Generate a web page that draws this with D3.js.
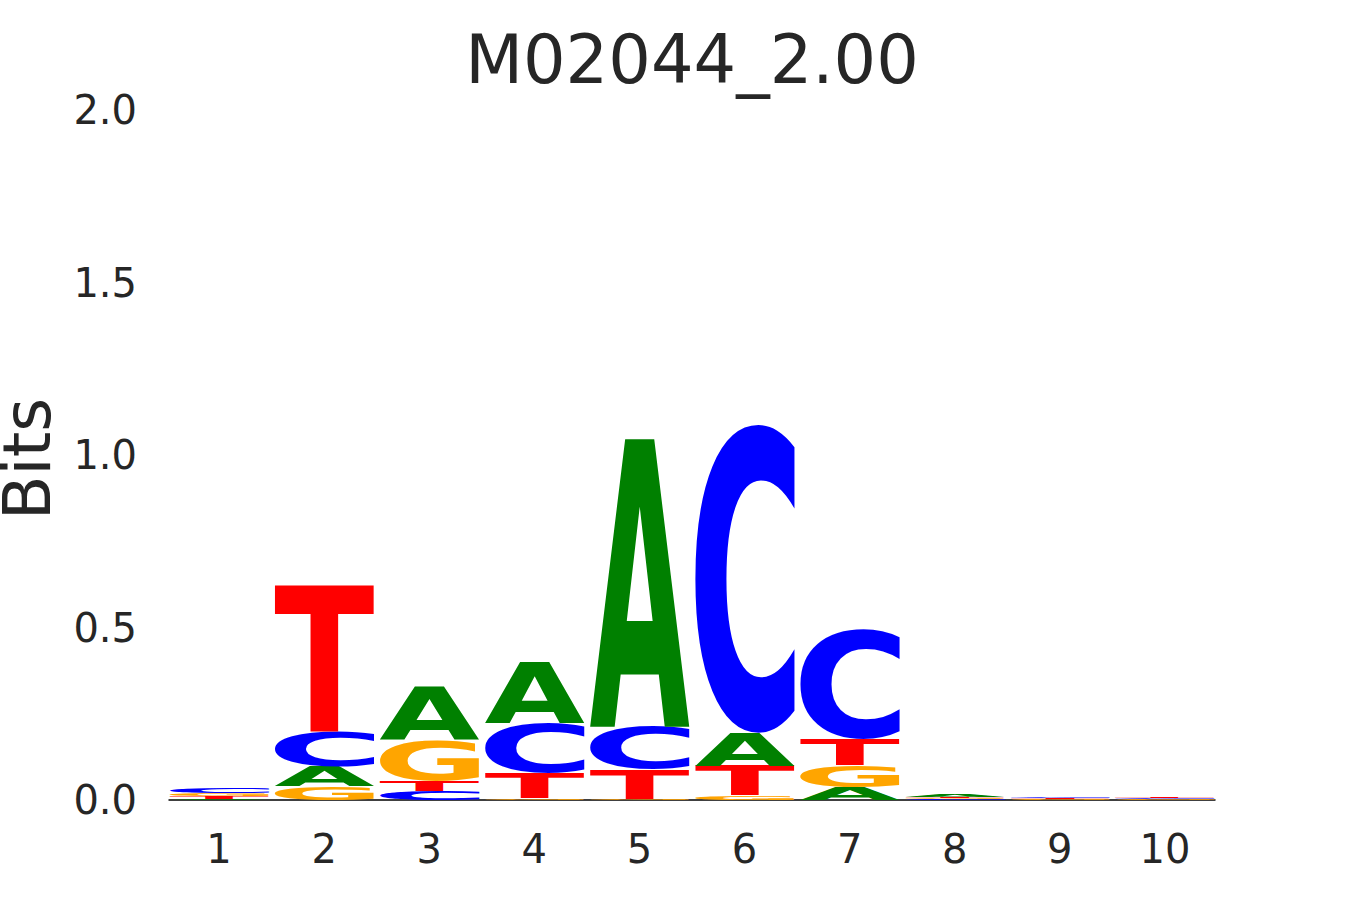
<!DOCTYPE html>
<html lang="en">
<head>
	<meta charset="UTF-8"/>
	<title>M02044_2.00</title>
	<script src="https://d3js.org/d3.v7.min.js"></script>
	<style>
		body { margin: 0; background: #fff; }
		text { font-family: "DejaVu Sans", sans-serif; fill: #262626; }
	</style>
</head>
<body>
	<script>
		var w = 1350;
		var h = 900;

		var positions = [1, 2, 3, 4, 5, 6, 7, 8, 9, 10];
		var letters = ["A", "C", "G", "T"];
		// information content (bits) per letter and position
		var bitsA = [0.004, 0.056, 0.153, 0.179, 0.835, 0.094, 0.037, 0.006, 0.001, 0.001];
		var bitsC = [0.015, 0.100, 0.027, 0.147, 0.126, 0.896, 0.316, 0.002, 0.005, 0.0025];
		var bitsG = [0.009, 0.040, 0.118, 0.005, 0.003, 0.013, 0.063, 0.003, 0.002, 0.002];
		var bitsT = [0.008, 0.427, 0.029, 0.072, 0.083, 0.087, 0.077, 0.004, 0.004, 0.003];
		var yTicks = [0, 0.5, 1.0, 1.5, 2.0];

		var colors = { A: "#008000", C: "#0000ff", G: "#ffa500", T: "#ff0000" };
		var bits = { A: bitsA, C: bitsC, G: bitsG, T: bitsT };

		var xScale = d3.scaleBand()
			.domain(positions)
			.range([166.5, 1217.5])
			.paddingInner(0.05)
			.paddingOuter(0.025);

		var yScale = d3.scaleLinear()
			.domain([0, 2])
			.range([800, 110]);

		var svg = d3.select("body")
			.append("svg")
			.attr("width", w)
			.attr("height", h);

		// measure the ink box of each glyph so it can be stretched into its cell
		var fontSize = 200;
		var ctx = document.createElement("canvas").getContext("2d");
		ctx.font = "bold " + fontSize + "px 'DejaVu Sans'";
		var metrics = {};
		letters.forEach(function(l) {
			var m = ctx.measureText(l);
			metrics[l] = {
				left: m.actualBoundingBoxLeft,
				right: m.actualBoundingBoxRight,
				ascent: m.actualBoundingBoxAscent,
				descent: m.actualBoundingBoxDescent
			};
		});

		// stack letters smallest at the bottom
		var glyphs = [];
		positions.forEach(function(p, i) {
			var col = letters.map(function(l) { return { letter: l, value: bits[l][i], pos: p }; });
			col.sort(function(a, b) { return a.value - b.value; });
			var y0 = 0;
			col.forEach(function(d) {
				d.y0 = y0;
				d.y1 = y0 + d.value;
				y0 = d.y1;
				glyphs.push(d);
			});
		});

		svg.append("line")
			.attr("x1", xScale.range()[0] + 2)
			.attr("x2", xScale.range()[1] - 2)
			.attr("y1", yScale(0))
			.attr("y2", yScale(0))
			.attr("stroke", "#000")
			.attr("stroke-width", 1.6);

		svg.selectAll("text.glyph")
			.data(glyphs)
			.enter()
			.append("text")
			.attr("class", "glyph")
			.text(function(d) { return d.letter; })
			.style("font-size", fontSize + "px")
			.style("font-weight", "bold")
			.style("fill", function(d) { return colors[d.letter]; })
			.attr("transform", function(d) {
				var m = metrics[d.letter];
				var bw = xScale.bandwidth();
				var top = yScale(d.y1);
				var bh = yScale(d.y0) - top;
				var sx = bw / (m.left + m.right);
				var sy = bh / (m.ascent + m.descent);
				return "translate(" + xScale(d.pos) + "," + top + ") scale(" + sx + "," + sy + ") translate(" + m.left + "," + m.ascent + ")";
			});

		// y tick labels
		svg.selectAll("text.ytick")
			.data(yTicks)
			.enter()
			.append("text")
			.attr("class", "ytick")
			.attr("x", 137)
			.attr("y", function(d) { return yScale(d) + 14; })
			.attr("text-anchor", "end")
			.style("font-size", "40px")
			.text(function(d) { return d.toFixed(1); });

		// x tick labels
		svg.selectAll("text.xtick")
			.data(positions)
			.enter()
			.append("text")
			.attr("class", "xtick")
			.attr("x", function(d) { return xScale(d) + xScale.bandwidth() / 2; })
			.attr("y", 863)
			.attr("text-anchor", "middle")
			.style("font-size", "40px")
			.text(function(d) { return d; });

		svg.append("text")
			.attr("transform", "translate(50,459) rotate(-90)")
			.attr("text-anchor", "middle")
			.style("font-size", "65px")
			.text("Bits");

		svg.append("text")
			.attr("x", 692)
			.attr("y", 83)
			.attr("text-anchor", "middle")
			.style("font-size", "67px")
			.text("M02044_2.00");
	</script>
</body>
</html>
